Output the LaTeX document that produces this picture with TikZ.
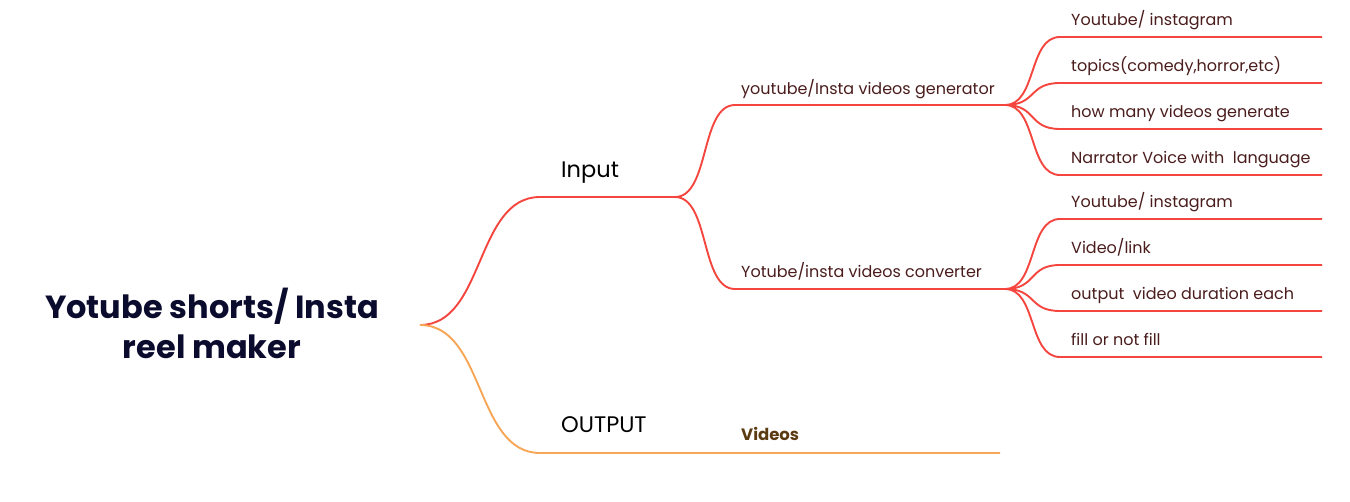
\documentclass[tikz,border=0pt]{standalone}
\usepackage{fontspec}
\setmainfont{Poppins}
\definecolor{linered}{HTML}{F4463F}
\definecolor{lineorange}{HTML}{F7A656}
\definecolor{titleblue}{HTML}{0B0B2E}
\definecolor{leafbrown}{HTML}{4A1C1C}
\definecolor{videobrown}{HTML}{5C3A12}

\tikzstyle{redline} = [draw=linered, line width=1.9pt]
\tikzstyle{orangeline} = [draw=lineorange, line width=1.9pt]
\tikzstyle{title} = [align=center, text=titleblue, font=\fontsize{32}{40}\selectfont\bfseries]
\tikzstyle{main} = [anchor=base west, inner sep=0pt, text=black, font=\fontsize{22.5}{26}\selectfont]
\tikzstyle{sub} = [anchor=base west, inner sep=0pt, text=leafbrown, font=\fontsize{16}{20}\selectfont]
\tikzstyle{leaf} = [anchor=base west, inner sep=0pt, text=leafbrown, font=\fontsize{16}{20}\selectfont]

\begin{document}
\begin{tikzpicture}[x=1pt, y=-1pt]
\useasboundingbox (0,0) rectangle (1350,502);

\node (root) [title] at (212,323) {Yotube shorts/ Insta\\reel maker};

% branch points
\coordinate (rootend) at (420,325);
\coordinate (inputL) at (540,197);
\coordinate (inputR) at (675,197);
\coordinate (outputL) at (540,453);
\coordinate (outputR) at (1000,453);
\coordinate (genL) at (735,105);
\coordinate (genR) at (1005,105);
\coordinate (convL) at (735,289);
\coordinate (convR) at (1005,289);

\node (input) [main] at (561,178) {Input};
\node (output) [main] at (561,433) {OUTPUT};
\node (videos) [leaf, text=videobrown, font=\fontsize{16.5}{20}\selectfont\bfseries] at (741,441) {Videos};
\node (gen) [sub] at (741,95) {youtube/Insta videos generator};
\node (conv) [sub] at (741,278) {Yotube/insta videos converter};

\draw[redline] (rootend) .. controls +(65,0) and +(-65,0) .. (inputL) -- (inputR);
\draw[orangeline] (rootend) .. controls +(65,0) and +(-65,0) .. (outputL) -- (outputR);
\draw[redline] (inputR) .. controls +(35,0) and +(-35,0) .. (genL) -- (genR);
\draw[redline] (inputR) .. controls +(35,0) and +(-35,0) .. (convL) -- (convR);

% generator leaves
\node (gen1) [leaf] at (1071,26) {Youtube/ instagram};
\node (gen2) [leaf] at (1071,72) {topics(comedy,horror,etc)};
\node (gen3) [leaf] at (1071,118) {how many videos generate};
\node (gen4) [leaf] at (1071,164) {Narrator Voice with \ language};
\draw[redline] (genR) .. controls +(32,0) and +(-32,0) .. (1060,37) -- (1322,37);
\draw[redline] (genR) .. controls +(32,0) and +(-32,0) .. (1060,83) -- (1322,83);
\draw[redline] (genR) .. controls +(32,0) and +(-32,0) .. (1060,129) -- (1322,129);
\draw[redline] (genR) .. controls +(32,0) and +(-32,0) .. (1060,175) -- (1322,175);

% converter leaves
\node (conv1) [leaf] at (1071,208) {Youtube/ instagram};
\node (conv2) [leaf] at (1071,254) {Video/link};
\node (conv3) [leaf] at (1071,300) {output \ video duration each};
\node (conv4) [leaf] at (1071,346) {fill or not fill};
\draw[redline] (convR) .. controls +(32,0) and +(-32,0) .. (1060,219) -- (1322,219);
\draw[redline] (convR) .. controls +(32,0) and +(-32,0) .. (1060,265) -- (1322,265);
\draw[redline] (convR) .. controls +(32,0) and +(-32,0) .. (1060,311) -- (1322,311);
\draw[redline] (convR) .. controls +(32,0) and +(-32,0) .. (1060,357) -- (1322,357);

\end{tikzpicture}
\end{document}
